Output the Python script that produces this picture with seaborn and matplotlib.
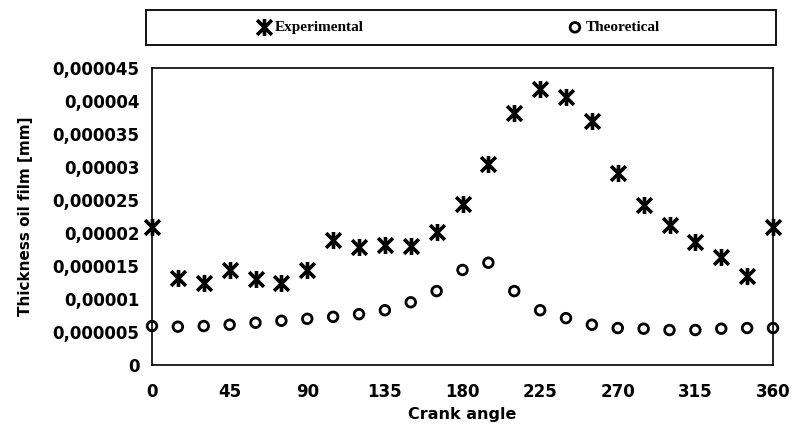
import numpy as np
import pandas as pd
import matplotlib.pyplot as plt
import seaborn as sns
from matplotlib.path import Path
from matplotlib.patches import Rectangle
from matplotlib.ticker import FuncFormatter

sns.set_style("white")
plt.rcParams['font.family'] = ['DejaVu Sans']
plt.rcParams['text.color'] = 'black'
plt.rcParams['axes.labelcolor'] = 'black'
plt.rcParams['xtick.color'] = 'black'
plt.rcParams['ytick.color'] = 'black'

# data
crank_angle = [0, 15, 30, 45, 60, 75, 90, 105, 120, 135, 150, 165, 180,
               195, 210, 225, 240, 255, 270, 285, 300, 315, 330, 345, 360]
experimental = [20.9, 13.2, 12.4, 14.4, 13.0, 12.4, 14.4, 18.9, 17.9, 18.2, 18.0, 20.2, 24.4,
                30.5, 38.2, 41.8, 40.6, 37.0, 29.1, 24.2, 21.2, 18.6, 16.4, 13.5, 20.9]
theoretical = [5.9, 5.8, 5.9, 6.1, 6.4, 6.7, 7.0, 7.3, 7.7, 8.3, 9.5, 11.2, 14.4,
               15.5, 11.2, 8.3, 7.1, 6.1, 5.6, 5.5, 5.3, 5.3, 5.5, 5.6, 5.6]
x_ticks = [0, 45, 90, 135, 180, 225, 270, 315, 360]
y_ticks = [0, 5e-6, 10e-6, 15e-6, 20e-6, 25e-6, 30e-6, 35e-6, 40e-6, 45e-6]

df = pd.DataFrame({
    "angle": crank_angle,
    "exp": np.array(experimental) * 1e-6,
    "theo": np.array(theoretical) * 1e-6,
})

# excel-like star marker: X with a vertical bar
star = Path([(-1, -1), (1, 1), (-1, 1), (1, -1), (0, -1.15), (0, 1.15)],
            [Path.MOVETO, Path.LINETO, Path.MOVETO, Path.LINETO, Path.MOVETO, Path.LINETO])

fig = plt.figure(figsize=(7.93, 4.34), dpi=100)
ax = fig.add_axes([152 / 793, 1 - 365 / 434, 621 / 793, 297 / 434])

sns.scatterplot(data=df, x="angle", y="exp", ax=ax, marker=star, s=150,
                color="black", edgecolor="black", linewidth=2.6,
                label="Experimental", clip_on=False, zorder=3)
sns.scatterplot(data=df, x="angle", y="theo", ax=ax, marker="o", s=48,
                facecolor="none", edgecolor="black", linewidth=2.0,
                label="Theoretical", clip_on=False, zorder=3)

ax.set_xlim(0, 360)
ax.set_ylim(0, 45e-6)
ax.set_xticks(x_ticks)
ax.set_yticks(y_ticks)
ax.yaxis.set_major_formatter(FuncFormatter(
    lambda v, p: f"{v:.6f}".rstrip("0").rstrip(".").replace(".", ",")))

for s in ax.spines.values():
    s.set_color("black")
    s.set_linewidth(1.2)
ax.tick_params(axis="both", direction="out", length=5, width=1.2, color="black",
               labelsize=12, pad=4, labelcolor="black")
ax.tick_params(axis="x", pad=8)
for lab in ax.get_xticklabels() + ax.get_yticklabels():
    lab.set_fontweight("bold")

ax.set_xlabel("Crank angle", fontsize=11.5, fontweight="bold", labelpad=4)
ax.set_ylabel("Thickness oil film [mm]", fontsize=11, fontweight="bold", labelpad=14)

# legend box across the top
handles, labels = ax.get_legend_handles_labels()
ax.get_legend().remove()
fig.patches.append(Rectangle((146 / 793, 1 - 45 / 434), 630 / 793, 35 / 434,
                             transform=fig.transFigure, fill=False,
                             edgecolor="black", linewidth=1.3))
fig.legend(handles, labels, loc="center", bbox_to_anchor=(0.578, 1 - 27.5 / 434),
           ncol=2, frameon=False, columnspacing=13.3, handletextpad=0.2,
           handlelength=1.0, prop={"family": "Liberation Serif", "weight": "bold", "size": 11})

fig.savefig("out.png", dpi=100)
